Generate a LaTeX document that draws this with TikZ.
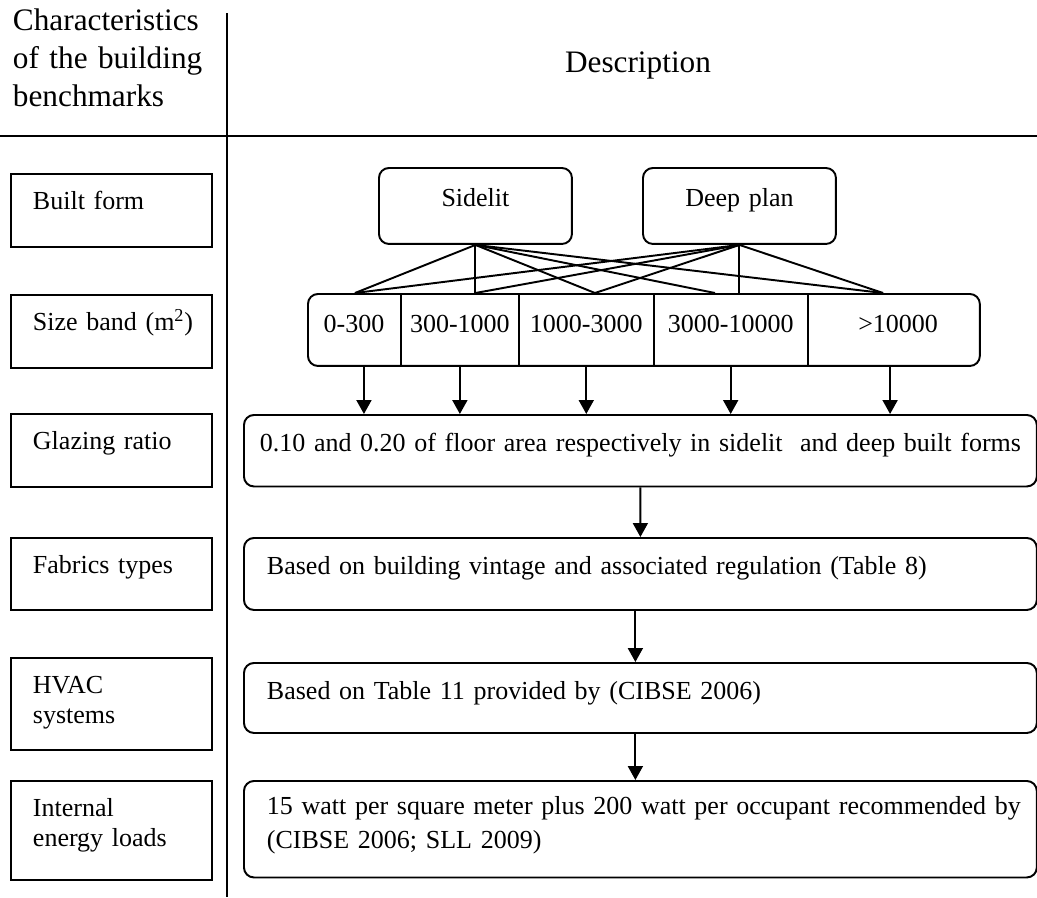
\documentclass[tikz,border=0pt]{standalone}
\usepackage{fontspec}
\setmainfont{Liberation Serif}
\usetikzlibrary{arrows.meta, positioning}

\begin{document}
\begin{tikzpicture}[x=0.02cm, y=-0.02cm, line width=1.1pt,
    arr/.style={-{Triangle[width=0.3cm,length=0.28cm]}},
    charbox/.style={draw, anchor=north west, inner xsep=0.44cm, inner ysep=0pt,
        text width=3.14cm, align=left, text height=0.71cm, font=\fontsize{14.8}{17}\selectfont},
    descbox/.style={draw, rounded corners=0.2cm, anchor=north west, inner xsep=0.46cm, inner ysep=0pt,
        text width=14.94cm, align=left, text height=0.73cm, font=\fontsize{14.8}{19.3}\selectfont},
    formbox/.style={draw, rounded corners=0.2cm, anchor=north west, inner sep=0pt,
        text width=3.86cm, align=center, text height=0.78cm, text depth=0.74cm, font=\fontsize{14.8}{17}\selectfont},
    cell/.style={inner sep=0pt, align=center, text height=0.78cm, text depth=0.66cm, font=\fontsize{14.8}{17}\selectfont}]
    \useasboundingbox (0,0) rectangle (1037,897);

    % Header
    \node[anchor=north west, inner sep=0pt, text width=4cm, align=left, text height=0.6cm,
        font=\fontsize{17.8}{21.5}\selectfont] (head) at (12,0) {Characteristics\\of the building\\benchmarks};
    \node[anchor=base, inner sep=0pt, font=\fontsize{17.8}{21.5}\selectfont] (desc) at (638,72) {Description};
    \draw (227,13) -- (227,897);
    \draw (0,136) -- (1037,136);

    % Characteristics
    \node[charbox, text depth=0.76cm] (kbuilt) at (10,173) {Built form};
    \node[charbox, text depth=0.75cm] (ksize) at (10,294) {\makebox[\linewidth][l]{Size band (m\textsuperscript{2})}};
    \node[charbox, text depth=0.75cm] (kglaz) at (10,413) {Glazing ratio};
    \node[charbox, text depth=0.73cm] (kfab) at (10,537) {Fabrics types};
    \node[charbox, text depth=1.13cm] (khvac) at (10,657) {HVAC\\systems};
    \node[charbox, text depth=1.27cm] (kint) at (10,780) {Internal\\energy loads};

    % Built forms
    \node[formbox] (side) at (378,167) {Sidelit};
    \node[formbox] (deep) at (642,167) {Deep plan};

    % Size bands
    \node[draw, rounded corners=0.2cm, anchor=north west, inner sep=0pt,
        minimum width=13.44cm, minimum height=1.44cm] (band) at (307,293) {};
    \node[cell, text width=1.84cm, anchor=north west] (c1) at (band.north west) {0-300};
    \node[cell, text width=2.32cm, right=0pt of c1] (c2) {300-1000};
    \node[cell, text width=2.66cm, right=0pt of c2] (c3) {1000-3000};
    \node[cell, text width=3.04cm, right=0pt of c3] (c4) {3000-10000};
    \node[cell, text width=3.58cm, right=0pt of c4] (c5) {>10000};
    \foreach \i in {1,...,4}
        \draw (c\i.north east) -- (c\i.south east);

    % Links from built forms to size bands
    \coordinate (t1) at (355,293);
    \coordinate (t2) at (side.south |- band.north);
    \coordinate (t3) at (595,293);
    \coordinate (t4) at (715,293);
    \coordinate (t5) at (883,293);
    \coordinate (t6) at (deep.south |- band.north);
    \foreach \t in {t1,t2,t3,t4,t5}
        \draw (side.south) -- (\t);
    \foreach \t in {t1,t2,t3,t6,t5}
        \draw (deep.south) -- (\t);

    % Descriptions
    \node[descbox, align=center, inner xsep=0.2cm, text width=15.46cm, text depth=0.70cm] (glaz) at (243,414)
        {0.10 and 0.20 of floor area respectively in sidelit\ \ and deep built forms};
    \node[descbox, text depth=0.71cm] (fab) at (243,537)
        {Based on building vintage and associated regulation (Table 8)};
    \node[descbox, text depth=0.67cm] (hvac) at (243,662)
        {Based on Table 11 provided by (CIBSE 2006)};
    \node[descbox, text height=0.68cm, text depth=1.25cm] (int) at (243,780)
        {\makebox[\linewidth][l]{15 watt per square meter plus 200 watt per occupant recommended by}\\(CIBSE 2006; SLL 2009)};

    % Arrows
    \foreach \c/\s in {c1/0.2, c2/0, c3/0, c4/0, c5/-0.16}
        \draw[arr] ([xshift=\s cm]\c.south) -- ([xshift=\s cm]\c.south |- glaz.north);
    \draw[arr] (glaz.south) -- (fab.north);
    \draw[arr] ([xshift=-0.1cm]fab.south) -- ([xshift=-0.1cm]fab.south |- hvac.north);
    \draw[arr] ([xshift=-0.1cm]hvac.south) -- ([xshift=-0.1cm]hvac.south |- int.north);
\end{tikzpicture}
\end{document}
